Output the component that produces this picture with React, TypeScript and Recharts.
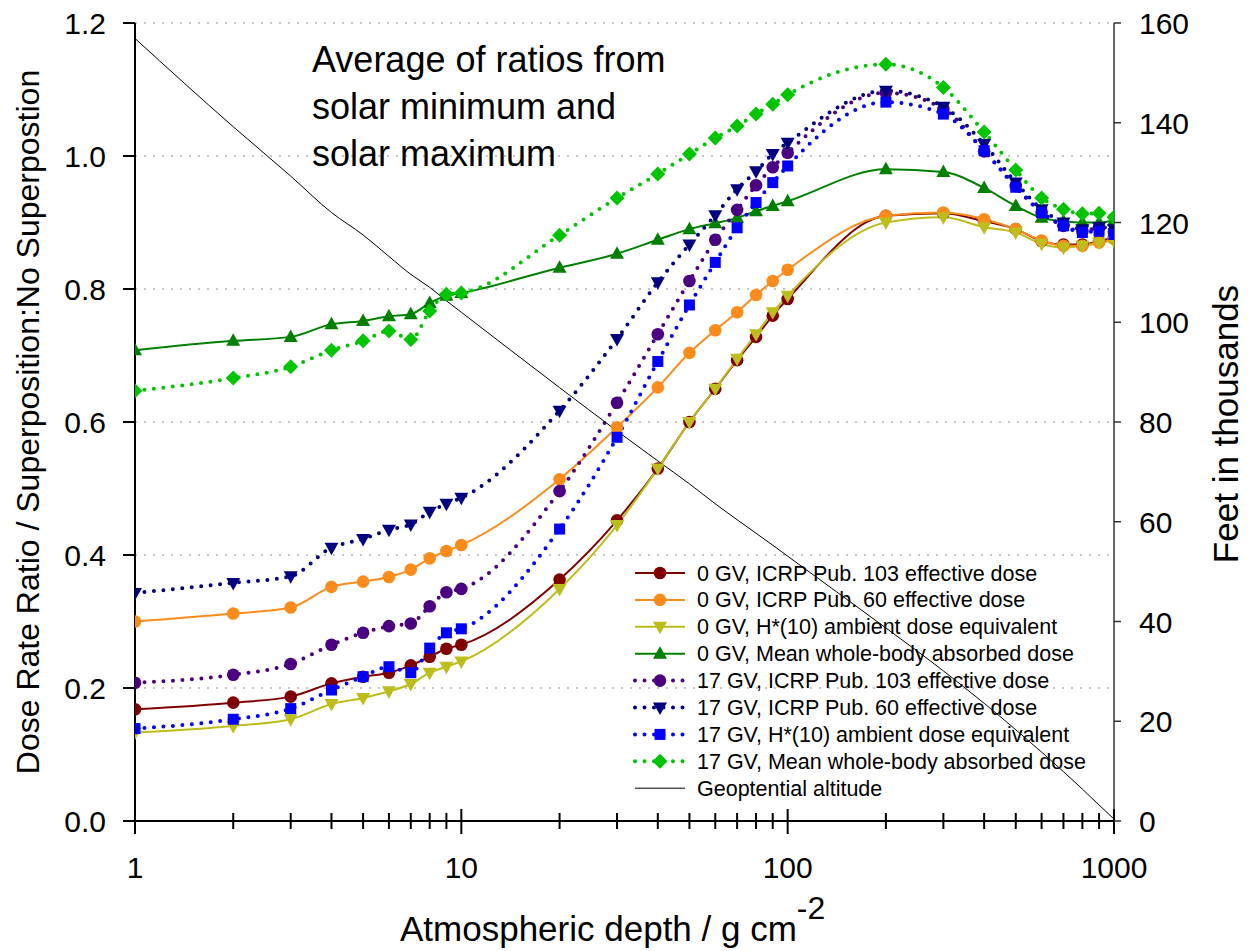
import { ComposedChart, Line, XAxis, YAxis, CartesianGrid } from 'recharts'

const FONT = '"Liberation Sans", Arial, sans-serif'

// atmospheric depth, g cm-2
const depth = [1, 2, 3, 4, 5, 6, 7, 8, 9, 10, 20, 30, 40, 50, 60, 70, 80, 90, 100, 200, 300, 400, 500, 600, 700, 800, 900, 1000]

const gv0Icrp103 = [0.168, 0.178, 0.187, 0.207, 0.217, 0.223, 0.234, 0.247, 0.259, 0.265, 0.363, 0.452, 0.53, 0.6, 0.65, 0.693, 0.728, 0.76, 0.785, 0.91, 0.914, 0.902, 0.89, 0.872, 0.867, 0.867, 0.872, 0.878]
const gv0Icrp60 = [0.3, 0.312, 0.321, 0.352, 0.36, 0.367, 0.378, 0.395, 0.406, 0.415, 0.514, 0.592, 0.652, 0.704, 0.738, 0.765, 0.791, 0.812, 0.829, 0.91, 0.915, 0.905, 0.89, 0.873, 0.865, 0.865, 0.87, 0.875]
const gv0Hstar = [0.133, 0.143, 0.153, 0.176, 0.185, 0.195, 0.206, 0.223, 0.232, 0.24, 0.349, 0.445, 0.53, 0.6, 0.65, 0.695, 0.732, 0.765, 0.79, 0.9, 0.908, 0.893, 0.885, 0.868, 0.862, 0.865, 0.87, 0.872]
const gv0Mean = [0.708, 0.722, 0.728, 0.747, 0.752, 0.759, 0.762, 0.779, 0.79, 0.794, 0.832, 0.853, 0.874, 0.89, 0.899, 0.907, 0.917, 0.925, 0.932, 0.98, 0.976, 0.952, 0.925, 0.907, 0.902, 0.9, 0.9, 0.903]
const gv17Icrp103 = [0.208, 0.22, 0.236, 0.265, 0.283, 0.293, 0.297, 0.323, 0.344, 0.349, 0.496, 0.629, 0.732, 0.812, 0.874, 0.919, 0.956, 0.983, 1.005, 1.095, 1.071, 1.007, 0.955, 0.915, 0.895, 0.887, 0.892, 0.887]
const gv17Icrp60 = [0.343, 0.358, 0.368, 0.411, 0.424, 0.438, 0.446, 0.465, 0.477, 0.486, 0.617, 0.725, 0.81, 0.867, 0.911, 0.95, 0.977, 1.003, 1.02, 1.098, 1.074, 1.018, 0.96, 0.92, 0.9, 0.89, 0.893, 0.89]
const gv17Hstar = [0.139, 0.153, 0.169, 0.197, 0.217, 0.232, 0.223, 0.26, 0.283, 0.289, 0.439, 0.577, 0.691, 0.776, 0.84, 0.892, 0.93, 0.96, 0.985, 1.081, 1.063, 1.008, 0.953, 0.915, 0.895, 0.885, 0.887, 0.882]
const gv17Mean = [0.647, 0.666, 0.683, 0.708, 0.722, 0.737, 0.724, 0.767, 0.792, 0.794, 0.881, 0.937, 0.973, 1.003, 1.027, 1.045, 1.063, 1.078, 1.092, 1.138, 1.103, 1.036, 0.979, 0.937, 0.92, 0.913, 0.914, 0.908]

// geopotential altitude, thousands of feet
const geoAltitude = [156.9, 139.2, 129.3, 122, 117.5, 113.2, 109.6, 107, 104.3, 102, 86.9, 78.2, 72.2, 67.6, 63.6, 60.4, 57.7, 55.3, 53.1, 38.7, 30.1, 23.6, 18.3, 13.8, 9.9, 6.4, 3.2, 0.4]

const decadeTicks = [1, 10, 100, 1000]
const ratioTicks = [0, 0.2, 0.4, 0.6, 0.8, 1.0, 1.2]
const feetTicks = [0, 20, 40, 60, 80, 100, 120, 140, 160]

const annotation = ['Average of ratios from', 'solar minimum and', 'solar maximum']

type Shape = 'circle' | 'up' | 'down' | 'square' | 'diamond'

const series: { key: string; name: string; color: string; shape: Shape; dotted: boolean; values: number[] }[] = [
  { key: 'gv0Icrp103', name: '0 GV, ICRP Pub. 103 effective dose', color: '#800000', shape: 'circle', dotted: false, values: gv0Icrp103 },
  { key: 'gv0Icrp60', name: '0 GV, ICRP Pub. 60 effective dose', color: '#fb8c1c', shape: 'circle', dotted: false, values: gv0Icrp60 },
  { key: 'gv0Hstar', name: '0 GV, H*(10) ambient dose equivalent', color: '#bdbd1c', shape: 'down', dotted: false, values: gv0Hstar },
  { key: 'gv0Mean', name: '0 GV, Mean whole-body absorbed dose', color: '#008000', shape: 'up', dotted: false, values: gv0Mean },
  { key: 'gv17Icrp103', name: '17 GV, ICRP Pub. 103 effective dose', color: '#4b0082', shape: 'circle', dotted: true, values: gv17Icrp103 },
  { key: 'gv17Icrp60', name: '17 GV, ICRP Pub. 60 effective dose', color: '#000080', shape: 'down', dotted: true, values: gv17Icrp60 },
  { key: 'gv17Hstar', name: '17 GV, H*(10) ambient dose equivalent', color: '#0000ff', shape: 'square', dotted: true, values: gv17Hstar },
  { key: 'gv17Mean', name: '17 GV, Mean whole-body absorbed dose', color: '#00c400', shape: 'diamond', dotted: true, values: gv17Mean },
]

const data = depth.map((d, i) => {
  const row: Record<string, number> = { depth: d, alt: geoAltitude[i] }
  series.forEach((s) => {
    row[s.key] = s.values[i]
  })
  return row
})

function Marker({ shape, cx, cy, color }: { shape: Shape; cx: number; cy: number; color: string }) {
  if (shape === 'circle') return <circle cx={cx} cy={cy} r={6.3} fill={color} />
  if (shape === 'square') return <rect x={cx - 5.5} y={cy - 5.5} width={11} height={11} fill={color} />
  let d = ''
  if (shape === 'up') d = `M${cx},${cy - 7.5} L${cx + 7},${cy + 5} L${cx - 7},${cy + 5} Z`
  if (shape === 'down') d = `M${cx},${cy + 7.5} L${cx + 7},${cy - 5} L${cx - 7},${cy - 5} Z`
  if (shape === 'diamond') d = `M${cx},${cy - 7.5} L${cx + 7.5},${cy} L${cx},${cy + 7.5} L${cx - 7.5},${cy} Z`
  return <path d={d} fill={color} />
}

function DepthTick({ x, y, payload }: any) {
  const major = decadeTicks.includes(payload.value)
  return (
    <g>
      <line x1={x} x2={x} y1={y - (major ? 12 : 8)} y2={y + (major ? 13 : 8)} stroke="#000" strokeWidth={2} />
      {major && (
        <text x={x} y={y + 57} textAnchor="middle" fontSize={30} fontFamily={FONT} fill="#000">
          {payload.value}
        </text>
      )}
    </g>
  )
}

function TopTick({ x, y }: any) {
  return <line x1={x} x2={x} y1={y} y2={y + 5} stroke="#333" strokeWidth={1.5} />
}

function RatioTick({ x, y, payload }: any) {
  return (
    <g>
      <line x1={x - 12} x2={x} y1={y} y2={y} stroke="#000" strokeWidth={2} />
      <text x={x - 29} y={y + 11} textAnchor="end" fontSize={30} fontFamily={FONT} fill="#000">
        {Number(payload.value).toFixed(1)}
      </text>
    </g>
  )
}

function FeetTick({ x, y, payload }: any) {
  return (
    <g>
      <line x1={x} x2={x + 7} y1={y} y2={y} stroke="#333" strokeWidth={1.5} />
      <text x={x + 25} y={y + 11} textAnchor="start" fontSize={30} fontFamily={FONT} fill="#000">
        {payload.value}
      </text>
    </g>
  )
}

function LegendBox() {
  const rowH = 26.9
  return (
    <g fontFamily={FONT} fontSize={21.5}>
      {series.map((s, i) => {
        const cy = 565 + i * rowH
        return (
          <g key={s.key}>
            <line
              x1={627}
              x2={677}
              y1={cy}
              y2={cy}
              stroke={s.color}
              strokeWidth={s.dotted ? 4 : 2}
              strokeDasharray={s.dotted ? '0 9.5' : undefined}
              strokeLinecap={s.dotted ? 'round' : 'butt'}
            />
            <Marker shape={s.shape} cx={652} cy={cy} color={s.color} />
            <text x={689} y={cy + 7.5} fill="#000">
              {s.name}
            </text>
          </g>
        )
      })}
      <line x1={627} x2={677} y1={565 + 8 * rowH} y2={565 + 8 * rowH} stroke="#000" strokeWidth={1} />
      <text x={689} y={565 + 8 * rowH + 7.5} fill="#000">
        Geoptential altitude
      </text>
    </g>
  )
}

export default function App() {
  return (
    <div style={{ position: 'relative', width: 1242, height: 943, fontFamily: FONT }}>
      <ComposedChart width={1242} height={935} data={data} margin={{ top: 15, right: 0, bottom: 0, left: 0 }}>
        <CartesianGrid yAxisId="left" vertical={false} stroke="#b4b4b4" strokeWidth={1.5} strokeDasharray="2 7" />
        <XAxis
          dataKey="depth"
          type="number"
          scale="log"
          domain={[1, 1000]}
          allowDataOverflow
          ticks={depth}
          interval={0}
          height={122}
          tickSize={0}
          tickMargin={0}
          tickLine={false}
          tick={<DepthTick />}
          axisLine={{ stroke: '#000', strokeWidth: 2 }}
        />
        <XAxis
          xAxisId="top"
          orientation="top"
          dataKey="depth"
          type="number"
          scale="log"
          domain={[1, 1000]}
          allowDataOverflow
          ticks={depth}
          interval={0}
          height={0}
          tickSize={0}
          tickMargin={0}
          tickLine={false}
          tick={<TopTick />}
          axisLine={{ stroke: '#222', strokeWidth: 1.5, strokeDasharray: '3 2' }}
        />
        <YAxis
          yAxisId="left"
          type="number"
          domain={[0, 1.2]}
          ticks={ratioTicks}
          interval={0}
          width={127}
          tickSize={0}
          tickMargin={0}
          tickLine={false}
          tick={<RatioTick />}
          axisLine={{ stroke: '#000', strokeWidth: 2 }}
        />
        <YAxis
          yAxisId="right"
          orientation="right"
          type="number"
          domain={[0, 160]}
          ticks={feetTicks}
          interval={0}
          width={136}
          tickSize={0}
          tickMargin={0}
          tickLine={false}
          tick={<FeetTick />}
          axisLine={{ stroke: '#333', strokeWidth: 1.5 }}
        />
        {series.map((s) => (
          <Line
            key={s.key}
            yAxisId="left"
            type="monotone"
            dataKey={s.key}
            name={s.name}
            stroke={s.color}
            strokeWidth={s.dotted ? 4 : 2}
            strokeDasharray={s.dotted ? '0 9.5' : undefined}
            strokeLinecap={s.dotted ? 'round' : 'butt'}
            dot={(p: any) => <Marker key={`${s.key}-${p.index}`} shape={s.shape} cx={p.cx} cy={p.cy} color={s.color} />}
            activeDot={false}
            isAnimationActive={false}
          />
        ))}
        <Line
          yAxisId="right"
          type="monotone"
          dataKey="alt"
          name="Geoptential altitude"
          stroke="#000"
          strokeWidth={1}
          dot={false}
          activeDot={false}
          isAnimationActive={false}
        />
      </ComposedChart>
      <svg
        width={1242}
        height={943}
        style={{ position: 'absolute', left: 0, top: 0, pointerEvents: 'none' }}
      >
        <text transform="translate(31, 414) rotate(-90)" textAnchor="middle" fontSize={32} fontFamily={FONT} fill="#000">
          Dose Rate Ratio / Superposition:No Superpostion
        </text>
        <text transform="translate(1230, 416) rotate(-90)" textAnchor="middle" fontSize={35} fontFamily={FONT} fill="#000">
          Feet in thousands
        </text>
        <text x={392} y={933} fontSize={35} fontFamily={FONT} fill="#000">
          Atmospheric depth / g cm
          <tspan dy={-22} fontSize={32}>
            -2
          </tspan>
        </text>
        <g fontSize={36} fontFamily={FONT} fill="#000">
          {annotation.map((t, i) => (
            <text key={t} x={304} y={64 + i * 47} fill="#000">
              {t}
            </text>
          ))}
        </g>
        <LegendBox />
      </svg>
    </div>
  )
}
